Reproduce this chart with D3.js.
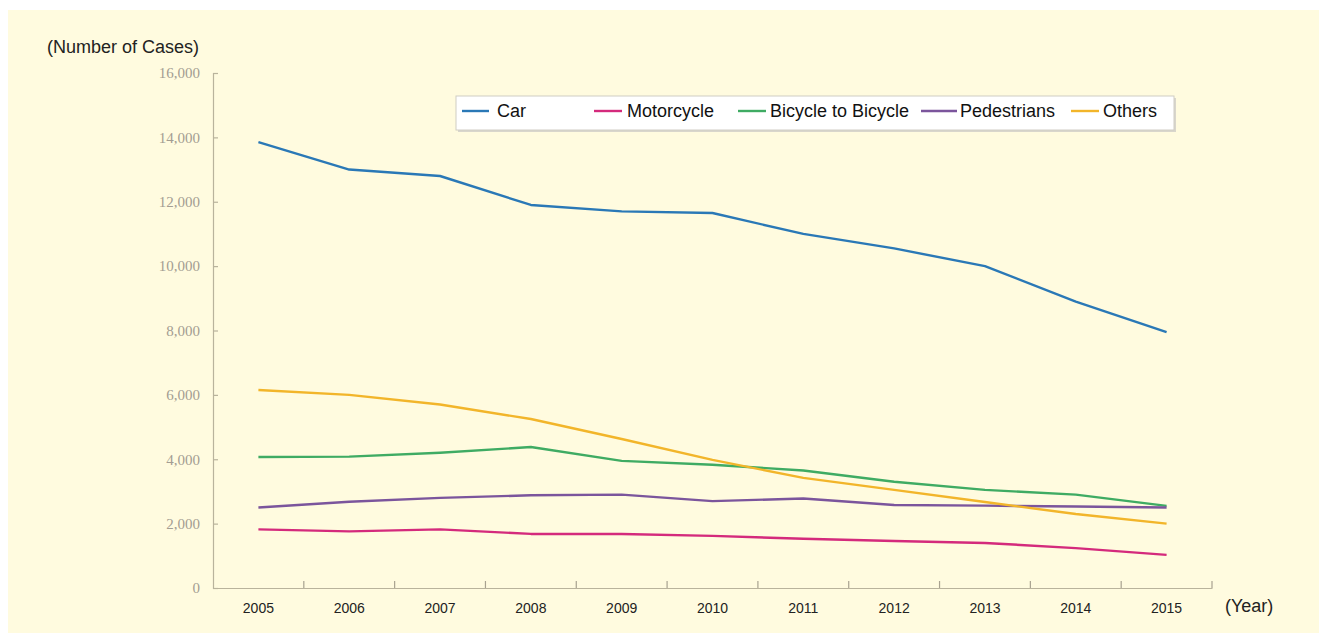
<!DOCTYPE html>
<html>
<head>
<meta charset="utf-8">
<script src="https://cdn.jsdelivr.net/npm/d3@7/dist/d3.min.js"></script>
<style>
  html, body { margin: 0; padding: 0; background: #ffffff; }
  svg { display: block; }
</style>
</head>
<body>
<svg id="chart" width="1319" height="639"></svg>
<script>
// Bicycle accident cases by type of counterpart, 2005-2015
const years = ["2005","2006","2007","2008","2009","2010","2011","2012","2013","2014","2015"];
const seriesNames = ["Car", "Motorcycle", "Bicycle to Bicycle", "Pedestrians", "Others"];
const carCases        = [13850, 13000, 12800, 11900, 11700, 11650, 11000, 10550, 10000, 8900, 7950];
const motorcycleCases = [1820, 1760, 1820, 1680, 1680, 1620, 1530, 1460, 1400, 1240, 1030];
const bicycleCases    = [4070, 4080, 4200, 4380, 3950, 3830, 3650, 3300, 3050, 2900, 2550];
const pedestrianCases = [2500, 2680, 2800, 2880, 2900, 2700, 2780, 2580, 2560, 2530, 2500];
const otherCases      = [6150, 6000, 5700, 5250, 4630, 3980, 3420, 3050, 2670, 2300, 2000];
const yTicks = [0, 2000, 4000, 6000, 8000, 10000, 12000, 14000, 16000];

const seriesValues = [carCases, motorcycleCases, bicycleCases, pedestrianCases, otherCases];
const colors = ["#2a78b6", "#d42a7c", "#3fab63", "#7b559c", "#f2b52a"];

const svg = d3.select("#chart");
const W = 1319, H = 639;
const plotLeft = 213, plotRight = 1212, plotTop = 73, plotBottom = 588;

// cream panel
svg.append("rect")
  .attr("x", 8).attr("y", 10)
  .attr("width", W - 8).attr("height", H - 16)
  .attr("fill", "#fffbdf");

const x = d3.scaleBand().domain(years).range([plotLeft, plotRight]).padding(0);
const y = d3.scaleLinear().domain([0, 16000]).range([plotBottom, plotTop]);

const axisColor = "#b9b39c";
const sans = "Arial, 'Liberation Sans', sans-serif";

// y axis
const yAxis = svg.append("g")
  .attr("transform", `translate(${plotLeft},0)`)
  .call(d3.axisLeft(y).tickValues(yTicks).tickSize(-5).tickPadding(13)
    .tickFormat(d3.format(",")));
yAxis.select(".domain").attr("stroke", axisColor).attr("stroke-width", 1.2);
yAxis.selectAll(".tick line").attr("stroke", axisColor).attr("stroke-width", 1.2);
yAxis.selectAll(".tick text")
  .attr("fill", "#a39d92")
  .style("font-family", "'Liberation Serif', 'DejaVu Serif', serif")
  .style("font-size", "15px");

// x axis: labels centred in each year band, ticks on band boundaries
const xAxis = svg.append("g")
  .attr("transform", `translate(0,${plotBottom})`)
  .call(d3.axisBottom(x).tickSize(0).tickPadding(15));
xAxis.select(".domain").attr("stroke", axisColor).attr("stroke-width", 1.2);
xAxis.selectAll(".tick text")
  .attr("fill", "#222")
  .style("font-family", sans)
  .style("font-size", "14px");

xAxis.selectAll(".boundary")
  .data(years)
  .enter().append("line")
  .attr("class", "boundary")
  .attr("x1", d => x(d) + x.bandwidth())
  .attr("x2", d => x(d) + x.bandwidth())
  .attr("y1", 0).attr("y2", -7)
  .attr("stroke", "#a8a290").attr("stroke-width", 1.2);

// axis titles
svg.append("text")
  .attr("x", 47).attr("y", 53)
  .attr("fill", "#222")
  .style("font-family", sans)
  .style("font-size", "18px")
  .text("(Number of Cases)");

svg.append("text")
  .attr("x", 1225).attr("y", 612)
  .attr("fill", "#222")
  .style("font-family", sans)
  .style("font-size", "18px")
  .text("(Year)");

// series lines
const line = d3.line()
  .x((d, i) => x(years[i]) + x.bandwidth() / 2)
  .y(d => y(d));

svg.append("g").selectAll("path")
  .data(seriesValues)
  .enter().append("path")
  .attr("d", d => line(d))
  .attr("fill", "none")
  .attr("stroke", (d, i) => colors[i])
  .attr("stroke-width", 2.4)
  .attr("stroke-linejoin", "round");

// legend
const legend = svg.append("g");
legend.append("rect")
  .attr("x", 458).attr("y", 98)
  .attr("width", 718).attr("height", 34)
  .attr("fill", "#d9d6cc");
legend.append("rect")
  .attr("x", 456).attr("y", 96)
  .attr("width", 718).attr("height", 34)
  .attr("fill", "#ffffff")
  .attr("stroke", "#d0cdc4").attr("stroke-width", 1);

const legendLineX = [462, 594, 738, 921, 1071];
const legendLineW = [27, 28, 28, 36, 28];
const legendTextX = [497, 627, 770, 960, 1103];
const items = legend.selectAll(".item")
  .data(seriesNames)
  .enter().append("g").attr("class", "item");
items.append("line")
  .attr("x1", (d, i) => legendLineX[i])
  .attr("x2", (d, i) => legendLineX[i] + legendLineW[i])
  .attr("y1", 111).attr("y2", 111)
  .attr("stroke", (d, i) => colors[i])
  .attr("stroke-width", 2.4);
items.append("text")
  .attr("x", (d, i) => legendTextX[i])
  .attr("y", 117)
  .attr("fill", "#111")
  .style("font-family", sans)
  .style("font-size", "18px")
  .text(d => d);
</script>
</body>
</html>
